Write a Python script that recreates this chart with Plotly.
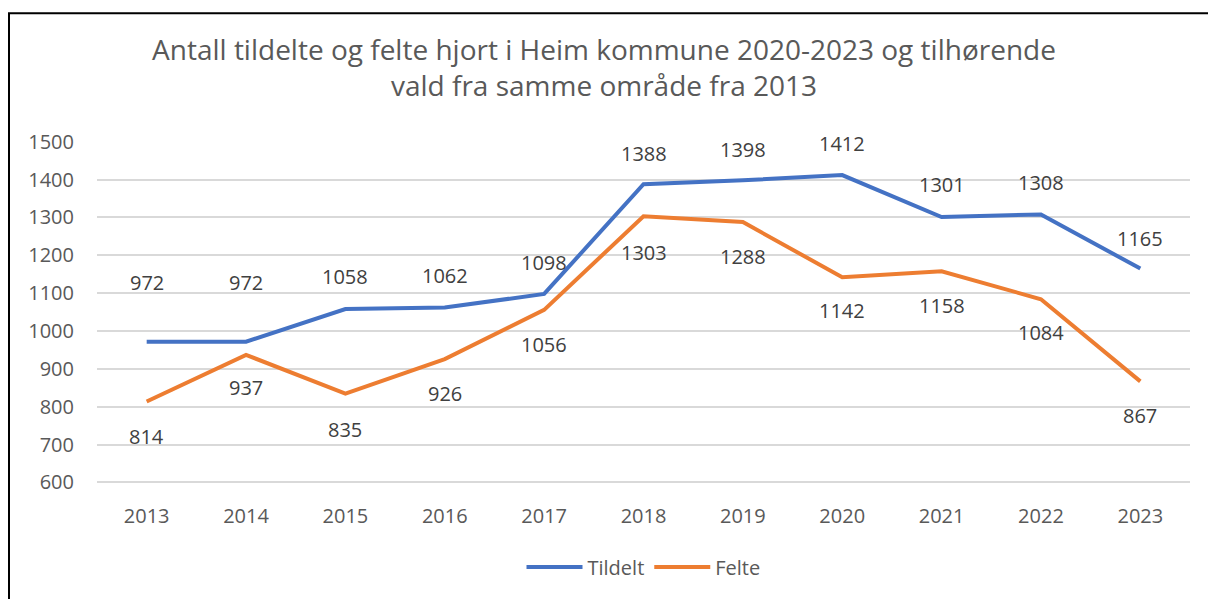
import plotly.graph_objects as go

years = ["2013", "2014", "2015", "2016", "2017", "2018", "2019", "2020", "2021", "2022", "2023"]
tildelt = [972, 972, 1058, 1062, 1098, 1388, 1398, 1412, 1301, 1308, 1165]
felte = [814, 937, 835, 926, 1056, 1303, 1288, 1142, 1158, 1084, 867]

BLUE = "#4472C4"
ORANGE = "#ED7D31"
FONT = "Open Sans"

# label offsets in px (first two blue labels sit higher in the original)
tildelt_shift = [59, 59, 33, 32, 31, 31, 31, 32, 33, 32, 30]
felte_shift = [-35, -33, -36, -34, -35, -36, -34, -33, -34, -33, -34]

fig = go.Figure()
fig.add_trace(go.Scatter(x=years, y=tildelt, name="Tildelt", mode="lines",
                         line=dict(color=BLUE, width=4)))
fig.add_trace(go.Scatter(x=years, y=felte, name="Felte", mode="lines",
                         line=dict(color=ORANGE, width=4)))

for vals, shifts in [(tildelt, tildelt_shift), (felte, felte_shift)]:
    for i, (v, s) in enumerate(zip(vals, shifts)):
        fig.add_annotation(xref="x", yref="y", x=i, y=v, text=str(v),
                           showarrow=False, yshift=s,
                           font=dict(family=FONT, size=20, color="#404040"))

# chart border (left, top; right edge runs off the picture)
plot_h = 599 - 141 - 106
fig.add_shape(type="rect", xref="paper", yref="paper",
              x0=-88 / 1093, x1=1.2, y0=-1, y1=(plot_h + 131) / plot_h,
              line=dict(color="black", width=2), fillcolor="rgba(0,0,0,0)")

fig.update_layout(
    width=1208, height=599,
    margin=dict(l=97, r=18, t=141, b=106),
    paper_bgcolor="white", plot_bgcolor="white",
    title=dict(text="Antall tildelte og felte hjort i Heim kommune 2020-2023 og tilhørende<br>vald fra samme område fra 2013",
               x=0.5, xanchor="center", yref="container", y=1 - 60 / 599, yanchor="middle",
               font=dict(family=FONT, size=28, color="#595959")),
    font=dict(family=FONT, size=20, color="#595959"),
    showlegend=True,
    legend=dict(orientation="h", x=0.5, xanchor="center", y=-0.185, yanchor="top",
                itemwidth=56, font=dict(family=FONT, size=20, color="#595959")),
    xaxis=dict(type="category", range=[-0.5, 10.5], showgrid=False, showline=False,
               ticks="", ticklabelstandoff=18, tickfont=dict(size=20, color="#595959")),
    yaxis=dict(range=[596, 1502], tickvals=list(range(600, 1501, 100)), showgrid=True,
               gridcolor="#D9D9D9", gridwidth=1.5,
               zeroline=False, showline=False, ticks="", ticklabelstandoff=22,
               tickfont=dict(size=20, color="#595959")),
)

fig.write_html("out.html", config={"displayModeBar": False},
               post_script="document.body.style.margin='0';")
